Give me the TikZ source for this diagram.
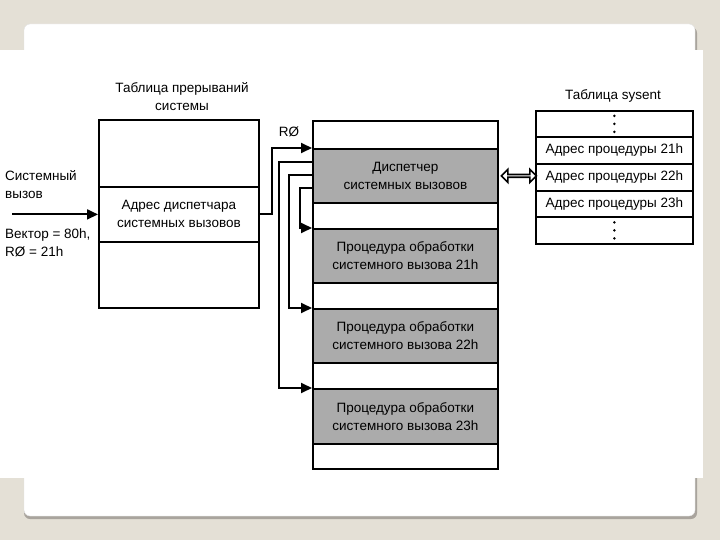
\documentclass[tikz,border=0pt]{standalone}
\usepackage{fontspec}
\setmainfont{Liberation Sans}
\usetikzlibrary{positioning, arrows.meta, shapes.arrows}
\definecolor{slidebg}{HTML}{E4E0D6}
\definecolor{slideedge}{HTML}{A9A49D}
\definecolor{shade}{HTML}{ABABAB}
\tikzset{
  txt/.style={font=\fontsize{13.5}{18}\selectfont, align=center, inner sep=0pt},
  cell/.style={draw, line width=1.8pt, anchor=north west, txt},
  intcell/.style={cell, minimum width=160pt},
  midcell/.style={cell, minimum width=185pt},
  syscell/.style={cell, minimum width=157pt},
  dark/.style={fill=shade},
  link/.style={line width=1.8pt, -{Triangle[length=11pt,width=10pt]}},
}

\begin{document}
\begin{tikzpicture}[x=1pt, y=-1pt]
    \useasboundingbox (0,0) rectangle (720,540);
    % slide
    \fill[slidebg] (0,0) rectangle (720,540);
    \fill[slideedge, rounded corners=6pt] (24,27) rectangle (697,519);
    \fill[white, draw=black!12, rounded corners=6pt] (24,24) rectangle (695,516);
    \fill[white] (0,50) rectangle (703,478);

    % interrupt table
    \node[txt] (intTitle) at (182,97) {Таблица прерываний\\системы};
    \node[intcell, minimum height=67pt] (intTop) at (98,119) {};
    \node[intcell, minimum height=55pt] (addr) at (98,186) {Адрес диспетчара\\системных вызовов};
    \node[intcell, minimum height=66pt] (intBot) at (98,241) {};

    % system call
    \node[txt, anchor=west, align=left] (callLbl) at (5,185) {Системный\\вызов};
    \coordinate (callIn) at ([xshift=-86pt]addr.west);
    \draw[link] (callIn) -- (addr.west);
    \node[txt, anchor=west, align=left] (vecLbl) at (5,243) {Вектор = 80h,\\RØ = 21h};

    % kernel memory
    \node[midcell, minimum height=28pt] (midA) at (312,120) {};
    \node[midcell, dark, minimum height=54pt] (disp) at (312,148) {Диспетчер\\системных вызовов};
    \node[midcell, minimum height=26pt] (midB) at (312,202) {};
    \node[midcell, dark, minimum height=54pt] (proc21) at (312,228) {Процедура обработки\\системного вызова 21h};
    \node[midcell, minimum height=26pt] (midC) at (312,282) {};
    \node[midcell, dark, minimum height=54pt] (proc22) at (312,308) {Процедура обработки\\системного вызова 22h};
    \node[midcell, minimum height=26pt] (midD) at (312,362) {};
    \node[midcell, dark, minimum height=55pt] (proc23) at (312,388) {Процедура обработки\\системного вызова 23h};
    \node[midcell, minimum height=25pt] (midE) at (312,443) {};

    % sysent table
    \node[txt] (sysTitle) at (613,96) {Таблица sysent};
    \node[syscell, minimum height=26pt] (sysDotsA) at (535,110) {};
    \node[syscell, minimum height=27pt] (sys21) at (535,136) {Адрес процедуры 21h};
    \node[syscell, minimum height=27pt] (sys22) at (535,163) {Адрес процедуры 22h};
    \node[syscell, minimum height=26pt] (sys23) at (535,190) {Адрес процедуры 23h};
    \node[syscell, minimum height=27pt] (sysDotsB) at (535,216) {};
    \foreach \d in {sysDotsA, sysDotsB}
        \foreach \k in {-8,0,8}
            \fill ([yshift=\k pt]\d.center) circle (1.4pt);

    \node[double arrow, draw, line width=1.6pt, fill=white, minimum height=35pt, minimum width=13pt,
          double arrow head extend=3pt, inner sep=0pt, right=1.5pt of disp.east] (xchg) {};

    % connectors
    \node[txt] (r0Lbl) at (289,132) {RØ};
    \draw[link] (addr.east) -- ++(12,0) |- (disp.north west);
    \draw[link] ([yshift=14pt]disp.west) -- ++(-33,0) |- (proc23.north west);
    \draw[link] ([yshift=1pt]disp.west) -- ++(-23,0) |- (proc22.north west);
    \draw[link] ([yshift=-12pt]disp.west) -- ++(-12,0) |- (proc21.north west);
\end{tikzpicture}
\end{document}
